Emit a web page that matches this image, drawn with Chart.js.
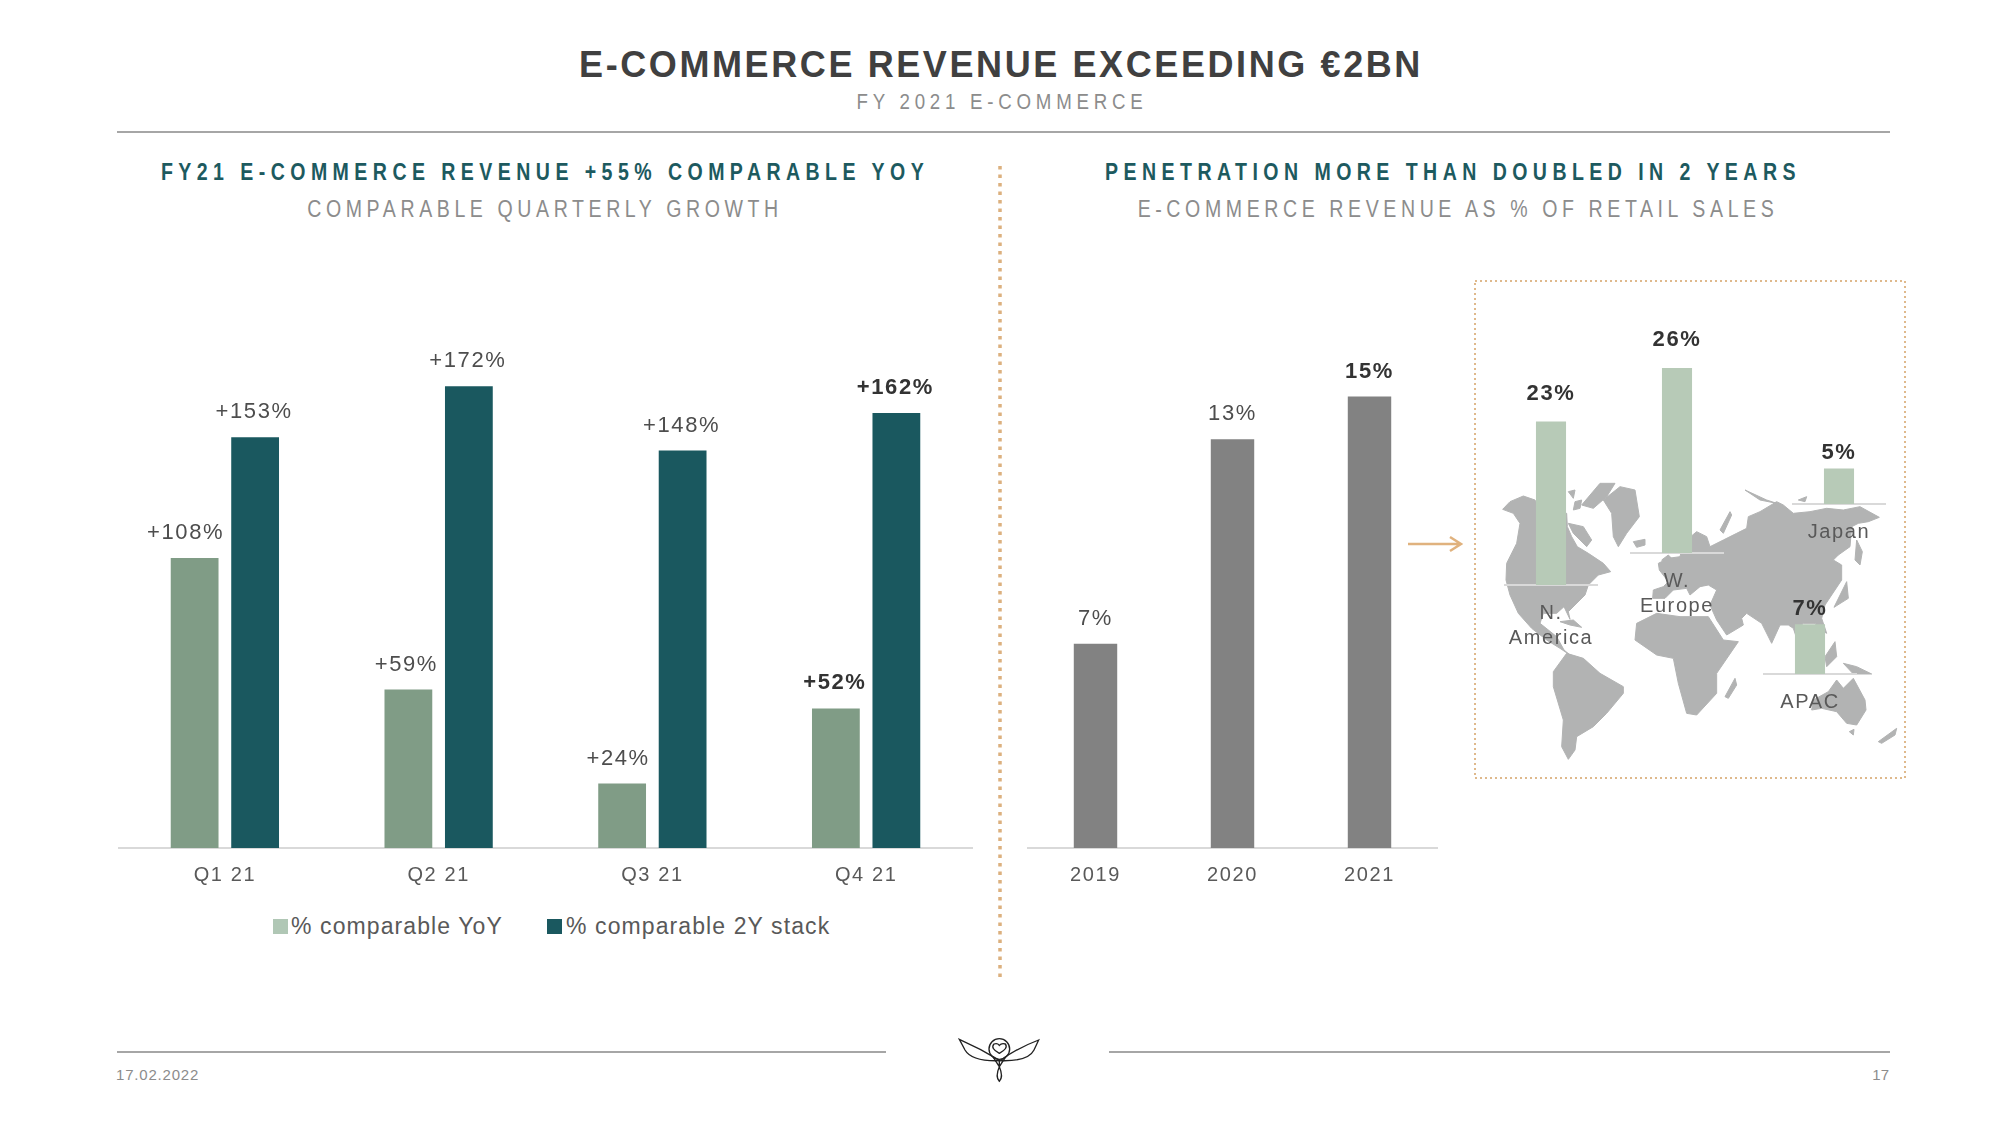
<!DOCTYPE html>
<html>
<head>
<meta charset="utf-8">
<title>E-commerce revenue</title>
<script src="https://cdn.jsdelivr.net/npm/chart.js@4"></script>
<style>
  html, body { margin: 0; background: #fff; }
  body { width: 2000px; height: 1125px; position: relative; overflow: hidden; font-family: "Liberation Sans", Arial, sans-serif; }
  canvas, svg, .txt, .rule { position: absolute; }
  .txt { white-space: nowrap; transform: translate(-50%, -50%); text-align: center; }
  .thin { transform: translate(-50%, -50%) scaleX(.85); }
  .rule { height: 0; border-top: 2px solid #a6a6a6; }
  .teal { color: #1d5a5f; font-weight: bold; font-size: 23px; letter-spacing: 6.4px; }
  .sub { color: #8c8c8c; font-size: 23px; letter-spacing: 5.4px; }
  #legend { position: absolute; left: 273px; top: 912px; height: 28px; color: #595959; font-size: 23px; letter-spacing: 1.1px; line-height: 28px; }
  #legend span { position: absolute; top: 0; white-space: nowrap; }
  #legend i { position: absolute; top: 7px; width: 15px; height: 15px; }
</style>
</head>
<body>

<div class="txt" style="left:1001px;top:65px;font-size:36px;font-weight:bold;color:#404040;letter-spacing:2.6px">E-COMMERCE REVENUE EXCEEDING €2BN</div>
<div class="txt thin" style="left:1002px;top:102px;font-size:22px;color:#8c8c8c;letter-spacing:5.6px">FY 2021 E-COMMERCE</div>
<div class="rule" style="left:117px;top:131px;width:1773px"></div>

<div class="txt teal thin" style="left:545px;top:172px">FY21 E-COMMERCE REVENUE +55% COMPARABLE YOY</div>
<div class="txt sub thin" style="left:545px;top:209px">COMPARABLE QUARTERLY GROWTH</div>
<div class="txt teal thin" style="left:1453px;top:172px">PENETRATION MORE THAN DOUBLED IN 2 YEARS</div>
<div class="txt sub thin" style="left:1458px;top:209px">E-COMMERCE REVENUE AS % OF RETAIL SALES</div>

<!-- dotted divider, arrow and inset frame -->
<svg style="left:0;top:0" width="2000" height="1125">
  <line x1="1000" y1="166" x2="1000" y2="980" stroke="#dcb07e" stroke-width="3.5" stroke-dasharray="3.5 5"/>
  <rect x="1475" y="281" width="430" height="497" fill="none" stroke="#dfb98c" stroke-width="2" stroke-dasharray="2 3"/>
  <path d="M1408 544H1461M1450 537L1461 544L1450 551" fill="none" stroke="#e0b27e" stroke-width="2.5"/>
</svg>

<!-- world map behind the inset bars, traced by hand -->
<svg style="left:1460px;top:270px" width="460" height="520" viewBox="0 0 1380 1560">
  <g fill="#b2b3b3" stroke="#b2b3b3" stroke-width="3" stroke-linejoin="round">
    <path d="M128 718L150 695L190 678L225 690L240 725L320 730L322 770L335 800L352 830L385 850L430 880L452 905L415 915L385 945L375 975L345 1005L325 1025L330 1048L312 1010L290 1030L250 1030L240 1060L290 1100L312 1140L330 1155L300 1135L260 1110L215 1075L175 1030L150 975L138 930L140 880L170 820L180 760L160 730Z"/>
    <path d="M320 1150L370 1165L420 1210L490 1250L490 1270L440 1330L400 1370L350 1400L345 1440L325 1468L305 1430L310 1350L280 1250L280 1205Z"/>
    <path d="M430 690L480 650L525 660L538 740L500 790L475 830L460 800L455 730Z"/>
    <path d="M365 705L420 640L465 640L440 680L400 715Z"/>
    <path d="M325 760L370 770L395 810L380 830L340 790Z"/>
    <path d="M325 665L345 660L340 685Z"/>
    <path d="M345 695L365 690L360 715L340 720Z"/>
    <path d="M520 815L555 808L555 825L530 832Z"/>
    <path d="M300 1055L340 1050L365 1072L330 1065Z"/>
    <path d="M605 870L625 855L640 870L620 885Z"/>
    <path d="M578 985L580 960L610 950L625 935L598 900L595 880L625 865L660 860L665 840L692 850L692 800L710 785L740 800L750 830L790 810L830 790L860 775L865 740L900 725L950 695L970 705L1000 730L1050 725L1100 715L1150 720L1200 710L1258 742L1225 755L1195 760L1175 770L1170 830L1135 855L1120 870L1145 885L1145 930L1115 975L1095 1005L1085 1045L1100 1090L1075 1075L1065 1060L1030 1060L1015 1075L1030 1130L1010 1105L1000 1075L985 1065L960 1065L935 1120L905 1060L860 1030L845 1045L850 1065L800 1095L770 1050L750 1005L770 960L745 945L720 950L690 975L680 955L640 960L615 985Z"/>
    <path d="M530 1060L590 1030L660 1040L745 1040L790 1110L835 1115L770 1210L770 1270L710 1335L680 1330L655 1240L640 1165L590 1155L525 1110Z"/>
    <path d="M1055 1320L1060 1290L1105 1265L1130 1230L1150 1255L1180 1225L1215 1290L1218 1320L1190 1365L1160 1360L1130 1325L1085 1315Z"/>
    <path d="M795 1280L825 1225L830 1245L805 1285Z"/>
    <path d="M1255 1415L1310 1375L1305 1395L1265 1420Z"/>
    <path d="M1168 1385L1182 1378L1180 1395Z"/>
    <path d="M1185 870L1190 810L1207 845L1200 885Z"/>
    <path d="M1122 1012L1160 935L1165 985Z"/>
    <path d="M1150 1180L1190 1190L1235 1212L1180 1212Z"/>
    <path d="M1095 1160L1125 1115L1130 1160L1100 1190Z"/>
    <path d="M780 780L810 725L815 735L790 790Z"/>
    <path d="M855 660L920 690L950 700L900 690Z"/>
    <path d="M1015 690L1040 680L1035 695Z"/>
  </g>
</svg>

<canvas id="quarterly" style="left:118px;top:311px"></canvas>
<div id="legend"></div>
<canvas id="penetration" style="left:1027px;top:299px"></canvas>
<div id="insets"></div>

<div class="rule" style="left:117px;top:1051px;width:769px"></div>
<div class="rule" style="left:1109px;top:1051px;width:781px"></div>
<svg style="left:900px;top:1020px" width="200" height="100" viewBox="0 0 600 300">
  <g fill="none" stroke="#222" stroke-width="4">
    <path d="M178 58Q240 85 300 122Q215 125 195 90Z"/>
    <path d="M416 60Q350 85 300 122Q385 125 402 90Z"/>
    <circle cx="298" cy="87" r="31"/>
    <path d="M298 100Q270 85 282 72Q292 68 298 76Q305 68 316 72Q326 85 298 100Z"/>
    <path d="M298 122L298 140Q285 170 298 184Q311 170 298 140M280 112L298 140L316 112"/>
  </g>
</svg>
<div class="txt" style="left:116px;top:1074px;transform:translateY(-50%);font-size:15px;color:#8c8c8c;letter-spacing:.8px">17.02.2022</div>
<div class="txt" style="left:1889px;top:1074px;transform:translate(-100%,-50%);font-size:15px;color:#8c8c8c">17</div>

<script>
/* data */
const quarters = ['Q1 21', 'Q2 21', 'Q3 21', 'Q4 21'];
const yoyValues = [108, 59, 24, 52];
const stackValues = [153, 172, 148, 162];
const seriesNames = ['% comparable YoY', '% comparable 2Y stack'];

const years = ['2019', '2020', '2021'];
const shareValues = [6.7, 13.4, 14.8];

const regions = [['N.', 'America'], ['W.', 'Europe'], 'Japan', 'APAC'];
const regionValues = [23, 26, 5, 7];

/* colours */
const YOY_GREEN = '#809c86';
const LEGEND_GREEN = '#b0c7b5';
const TEAL = '#1a585f';
const GREY = '#828282';
const MAP_GREEN = '#b7cab7';
const FONT = '"Liberation Sans", Arial, sans-serif';
const TRACK = '1.6px';

// canvas has no css letter spacing, so it is set on the context
const spacing = {
  id: 'spacing',
  beforeUpdate(chart) { chart.ctx.letterSpacing = TRACK; },
  beforeDraw(chart) { chart.ctx.letterSpacing = TRACK; }
};

// value labels on top of the bars
const valueLabels = {
  id: 'valueLabels',
  afterDatasetsDraw(chart, args, opts) {
    const ctx = chart.ctx;
    chart.data.datasets.forEach((ds, d) => {
      chart.getDatasetMeta(d).data.forEach((bar, i) => {
        const bold = opts.bold === true || opts.bold === i;
        const shift = opts.shift ? opts.shift[d][i] : 0;
        ctx.save();
        ctx.letterSpacing = TRACK;
        ctx.font = (bold ? 'bold ' : '') + opts.size + 'px ' + FONT;
        ctx.fillStyle = bold ? '#333333' : '#4d4d4d';
        ctx.textAlign = 'center';
        ctx.textBaseline = 'middle';
        ctx.fillText(opts.format(ds.data[i]), bar.x + shift, bar.y - opts.gap);
        ctx.restore();
      });
    });
  }
};

function barOptions(yMax, axisHeight, tickSize, tickPad, labelOpts, barPct, catPct) {
  return {
    responsive: false,
    animation: false,
    layout: { padding: 0 },
    datasets: { bar: { barPercentage: barPct, categoryPercentage: catPct } },
    plugins: { legend: { display: false }, tooltip: { enabled: false }, valueLabels: labelOpts },
    scales: {
      y: { display: false, min: 0, max: yMax },
      x: {
        afterFit(scale) {
          scale.height = axisHeight;
          // long tick labels must not squeeze the plot
          scale.paddingLeft = 0;
          scale.paddingRight = 0;
        },
        grid: { display: false },
        border: { color: '#d9d9d9', width: 2 },
        ticks: { color: '#595959', padding: tickPad, maxRotation: 0, autoSkip: false, font: { family: FONT, size: tickSize } }
      }
    }
  };
}

/* left chart */
const leftCanvas = document.getElementById('quarterly');
leftCanvas.width = 855;
leftCanvas.height = 587;
new Chart(leftCanvas, {
  type: 'bar',
  data: {
    labels: quarters,
    datasets: [
      { label: seriesNames[0], data: yoyValues, backgroundColor: YOY_GREEN },
      { label: seriesNames[1], data: stackValues, backgroundColor: TEAL }
    ]
  },
  options: barOptions(200, 50, 20, 7, {
    format: v => '+' + v + '%', bold: 3, size: 22, gap: 25,
    shift: [[-9, -2, -4, -1], [-1, -1, -1, -1]]
  }, 0.79, 0.566),
  plugins: [spacing, valueLabels]
});

/* legend */
const legendEl = document.getElementById('legend');
[[0, 18, LEGEND_GREEN], [274, 293, TEAL]].forEach((item, n) => {
  legendEl.innerHTML += '<i style="left:' + item[0] + 'px;background:' + item[2] + '"></i>' +
    '<span style="left:' + item[1] + 'px">' + seriesNames[n] + '</span>';
});

/* middle chart */
const midCanvas = document.getElementById('penetration');
midCanvas.width = 411;
midCanvas.height = 599;
new Chart(midCanvas, {
  type: 'bar',
  data: { labels: years, datasets: [{ data: shareValues, backgroundColor: GREY }] },
  options: barOptions(18, 50, 20, 7, { format: v => Math.round(v) + '%', bold: 2, size: 22, gap: 25 }, 0.317, 1),
  plugins: [spacing, valueLabels]
});

/* inset bars, one small chart per region, each on its own baseline */
const insetLeft = [1504, 1630, 1792, 1763];
const insetBaseline = [585, 553, 504, 674];
const insetGap = [28, 28, 16, 15];
const INSET_W = 94, INSET_H = 256, INSET_AXIS = 70;
regions.forEach((region, i) => {
  const c = document.createElement('canvas');
  c.width = INSET_W;
  c.height = INSET_H + INSET_AXIS;
  c.style.left = insetLeft[i] + 'px';
  c.style.top = (insetBaseline[i] - INSET_H) + 'px';
  document.getElementById('insets').appendChild(c);
  const opts = barOptions(36, INSET_AXIS, 20, 8, { format: v => v + '%', bold: true, size: 22, gap: insetGap[i] }, 0.32, 1);
  opts.scales.x.ticks.font.lineHeight = 1.25;
  new Chart(c, {
    type: 'bar',
    data: { labels: [region], datasets: [{ data: [regionValues[i]], backgroundColor: MAP_GREEN }] },
    options: opts,
    plugins: [spacing, valueLabels]
  });
});
</script>
</body>
</html>
